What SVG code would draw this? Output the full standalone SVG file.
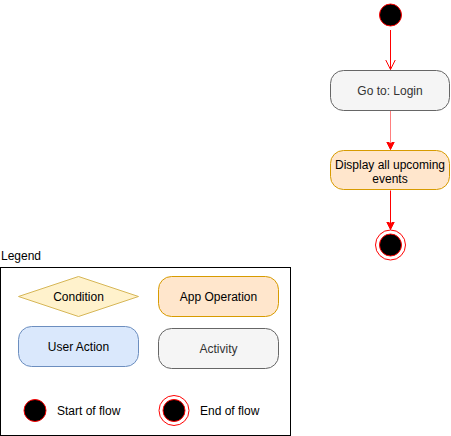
<svg xmlns="http://www.w3.org/2000/svg" width="451" height="436" viewBox="0 0 451 436">
<defs>
<style>
text{font-family:"Liberation Sans",Arial,sans-serif;font-size:12px;fill:#000}
.c{text-anchor:middle}
.start{fill:#000;stroke:#ff0000;stroke-width:1}
.endo{fill:none;stroke:#ff0000;stroke-width:1}
.act{fill:#f5f5f5;stroke:#666666}
.app{fill:#ffe6cc;stroke:#d79b00}
.usr{fill:#dae8fc;stroke:#6c8ebf}
.cond{fill:#fff2cc;stroke:#d6b656}
.edge{stroke:#ff0000;stroke-width:1;fill:none}
</style>
<marker id="open" markerWidth="12" markerHeight="12" refX="10" refY="5" orient="auto" markerUnits="userSpaceOnUse" viewBox="0 0 12 10">
<path d="M0,0 L10,5 L0,10" fill="none" stroke="#ff0000" stroke-width="1"/>
</marker>
<marker id="fill" markerWidth="9" markerHeight="9" refX="8" refY="4" orient="auto" markerUnits="userSpaceOnUse" viewBox="0 0 9 8">
<path d="M0,0 L8,4 L0,8 L2,4 Z" fill="#ff0000" stroke="#ff0000" stroke-width="1"/>
</marker>
</defs>
<g id="connectors">
<path class="edge" d="M390.5,30 L390.5,69.5" marker-end="url(#open)"/>
<path class="edge" d="M390.5,110.5 L390.5,149.5" stroke-opacity="0.5" stroke-width="2" marker-end="url(#fill)"/>
<path class="edge" d="M390.5,190.5 L390.5,229.5" marker-end="url(#fill)"/>
</g>
<g id="start">
<circle class="start" cx="390.5" cy="15" r="11"/>
</g>
<g id="login">
<rect class="act" x="330.5" y="70.5" width="119" height="40" rx="13"/>
<text class="c" x="390" y="94.5" style="fill:#333333">Go to: Login</text>
</g>
<g id="display">
<rect class="app" x="330.5" y="150.5" width="119" height="39" rx="13"/>
<text class="c" x="390" y="169">Display all upcoming</text>
<text class="c" x="390" y="183">events</text>
</g>
<g id="end">
<circle class="endo" cx="390.5" cy="245" r="15"/>
<circle class="start" cx="390.5" cy="245" r="11"/>
</g>
<g id="legend">
<text x="1" y="260">Legend</text>
<rect x="0.5" y="267.5" width="290" height="168" fill="#fff" stroke="#000"/>
<polygon class="cond" points="18.5,296.5 78.5,276.5 138.5,296.5 78.5,316.5"/>
<text class="c" x="78.5" y="301">Condition</text>
<rect class="app" x="158.5" y="276.5" width="120" height="40" rx="13"/>
<text class="c" x="218.5" y="301">App Operation</text>
<rect class="usr" x="18.5" y="326.5" width="120" height="40" rx="13"/>
<text class="c" x="78.5" y="351">User Action</text>
<rect class="act" x="158.5" y="328.5" width="120" height="40" rx="13"/>
<text class="c" x="218.5" y="353" style="fill:#333333">Activity</text>
<circle class="start" cx="35" cy="410.5" r="11"/>
<text x="57" y="415">Start of flow</text>
<circle class="endo" cx="174" cy="410.5" r="15"/>
<circle class="start" cx="174" cy="410.5" r="11"/>
<text x="200" y="415">End of flow</text>
</g>
</svg>
